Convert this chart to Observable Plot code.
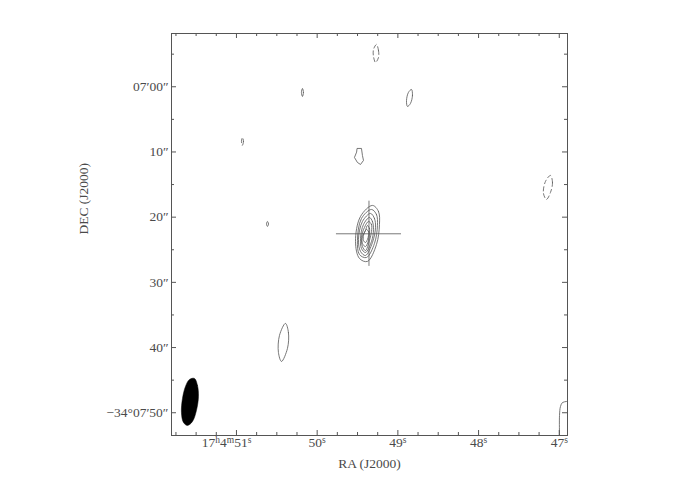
<!DOCTYPE html>
<html><head><meta charset="utf-8">
<script src="https://cdn.jsdelivr.net/npm/d3@7"></script>
<script src="https://cdn.jsdelivr.net/npm/@observablehq/plot@0.6"></script>
<style>body{margin:0;background:#fff}</style>
</head><body><div id="chart"></div>
<script>
// Axis ticks and labels (RA seconds of 17h04m, Dec arcsec beyond -34°07'00")
const raMajor = [51, 50, 49, 48, 47];
const raLabels = ["17ʰ4ᵐ51ˢ", "50ˢ", "49ˢ", "48ˢ", "47ˢ"];
const raMinor = [51.75,51.5,51.25,50.75,50.5,50.25,49.75,49.5,49.25,48.75,48.5,48.25,47.75,47.5,47.25];
const decMajor = [0, 10, 20, 30, 40, 50];
const decLabels = ["07′00″", "10″", "20″", "30″", "40″", "−34°07′50″"];
const decMinor = [-5, 5, 15, 25, 35, 45];
const raDomain = [51.805, 46.898];
const decDomain = [-8.17, 53.49];

// Main source contours [RA s, Dec "]
const srcC1 = [[49.315,18.20],[49.240,19.12],[49.228,21.12],[49.265,24.20],[49.377,26.79],[49.476,26.33],[49.525,23.74],[49.463,19.89]];
const srcC2 = [[49.327,18.82],[49.265,19.59],[49.253,21.28],[49.290,24.04],[49.389,26.19],[49.476,25.73],[49.501,23.58],[49.451,20.20]];
const srcC3 = [[49.339,19.43],[49.290,20.20],[49.277,21.58],[49.315,23.89],[49.401,25.88],[49.463,25.26],[49.488,23.43],[49.439,20.66]];
const srcC4 = [[49.352,20.05],[49.315,20.66],[49.302,21.89],[49.327,23.74],[49.401,25.42],[49.451,24.81],[49.463,23.27],[49.426,21.12]];
const srcC5 = [[49.364,20.66],[49.327,21.12],[49.327,22.20],[49.352,23.58],[49.401,25.12],[49.439,24.51],[49.451,23.12],[49.414,21.58]];
const srcC6 = [[49.377,21.28],[49.352,21.74],[49.352,22.50],[49.364,23.58],[49.401,24.51],[49.439,24.04],[49.439,22.97],[49.401,22.04]];
const srcC7 = [[49.389,21.89],[49.364,22.20],[49.364,22.81],[49.377,23.43],[49.401,23.89],[49.426,23.58],[49.426,22.81],[49.414,22.35]];

// Other positive (solid) contours
const posA = [[50.182,0.26],[50.170,0.87],[50.182,1.49],[50.195,0.87]];
const posB = [[48.831,0.41],[48.819,1.33],[48.844,2.56],[48.881,3.02],[48.893,2.10],[48.869,0.87]];
const posC = [[49.501,9.46],[49.451,9.46],[49.439,10.54],[49.426,11.30],[49.463,11.92],[49.501,11.61],[49.538,10.84],[49.513,10.08]];
const posD = [[50.616,20.66],[50.603,21.04],[50.616,21.43],[50.628,21.04]];
const posE = [[50.393,36.30],[50.356,37.68],[50.368,40.13],[50.442,42.13],[50.480,40.75],[50.467,38.14]];
// Negative (dashed) contours
const negA = [[49.265,-6.49],[49.240,-5.57],[49.240,-4.49],[49.277,-3.73],[49.302,-4.64],[49.302,-5.72]];
const negB = [[50.926,7.78],[50.913,8.39],[50.926,9.00],[50.938,8.39]];
const negC = [[47.109,13.60],[47.084,14.68],[47.109,16.21],[47.158,17.28],[47.196,16.36],[47.171,14.52]];
// Contour cut by the map edge
const edgeOpen = [[46.997,53.49],[46.997,50.42],[46.985,49.04],[46.960,48.43],[46.910,48.27],[46.898,48.20]];
// Beam
const beam = [[51.520,44.74],[51.483,45.81],[51.471,47.50],[51.496,49.65],[51.545,51.34],[51.607,51.95],[51.657,51.49],[51.682,49.96],[51.669,47.81],[51.632,45.97],[51.582,44.89]];
// Cross marking the position
const crossCenter = {ra: 49.358, dec: 22.55};
const crossHalf = {ra: 0.403, dec: 5.0};

const toRows = (groups) => groups.flatMap(([id, pts]) => pts.map(([ra, dec]) => ({id, ra, dec})));
const smoothSolid = toRows([["c1",srcC1],["c2",srcC2],["c3",srcC3],["c4",srcC4],["c5",srcC5],["c6",srcC6],["c7",srcC7],["a",posA],["b",posB],["d",posD],["e",posE]]);
const polySolid = toRows([["c",posC]]);
const dashed = toRows([["na",negA],["nb",negB],["nc",negC]]);
const openRows = toRows([["edge",edgeOpen]]);
const beamRows = toRows([["beam",beam]]);

const W = 690, H = 488, mL = 171, mR = 123, mT = 33, mB = 53;
const frameW = W - mL - mR, frameH = H - mT - mB;
const ink = "#555", txt = "#4a4a4a";

const chart = Plot.plot({
  width: W, height: H,
  marginLeft: mL, marginRight: mR, marginTop: mT, marginBottom: mB,
  style: {fontFamily: "'Liberation Serif', 'DejaVu Serif', serif", fontSize: "13.5px", color: txt, background: "#fff"},
  x: {domain: raDomain, axis: null},
  y: {domain: decDomain, reverse: true, axis: null},
  marks: [
    Plot.frame({stroke: ink, strokeWidth: 1}),
    // inward ticks
    Plot.tickX(raMajor, {x: d => d, insetBottom: frameH - 5, stroke: ink}),
    Plot.tickX(raMajor, {x: d => d, insetTop: frameH - 5, stroke: ink}),
    Plot.tickX(raMinor, {x: d => d, insetBottom: frameH - 3, stroke: ink}),
    Plot.tickX(raMinor, {x: d => d, insetTop: frameH - 3, stroke: ink}),
    Plot.tickY(decMajor, {y: d => d, insetRight: frameW - 5, stroke: ink}),
    Plot.tickY(decMajor, {y: d => d, insetLeft: frameW - 5, stroke: ink}),
    Plot.tickY(decMinor, {y: d => d, insetRight: frameW - 3, stroke: ink}),
    Plot.tickY(decMinor, {y: d => d, insetLeft: frameW - 3, stroke: ink}),
    // tick labels
    Plot.text(raMajor.slice(0, 1), {x: d => d, frameAnchor: "bottom", dy: 11, dx: 15, textAnchor: "end", text: (d, i) => raLabels[0], fill: txt}),
    Plot.text(raMajor.slice(1), {x: d => d, frameAnchor: "bottom", dy: 11, text: (d, i) => raLabels[i + 1], fill: txt}),
    Plot.text(decMajor, {y: d => d, frameAnchor: "left", dx: -3, textAnchor: "end", text: (d, i) => decLabels[i], fill: txt}),
    // axis titles
    Plot.text(["RA (J2000)"], {frameAnchor: "bottom", dy: 32, fill: txt}),
    Plot.text(["DEC (J2000)"], {frameAnchor: "left", dx: -88, rotate: -90, fill: txt}),
    // contours
    Plot.line(smoothSolid, {x: "ra", y: "dec", z: "id", curve: "catmull-rom-closed", stroke: ink, strokeWidth: 0.8}),
    Plot.line(polySolid, {x: "ra", y: "dec", z: "id", curve: "linear-closed", stroke: ink, strokeWidth: 0.8}),
    Plot.line(dashed, {x: "ra", y: "dec", z: "id", curve: "catmull-rom-closed", stroke: ink, strokeWidth: 0.8, strokeDasharray: "4,3"}),
    Plot.line(openRows, {x: "ra", y: "dec", z: "id", curve: "catmull-rom", stroke: ink, strokeWidth: 0.8}),
    // beam
    Plot.line(beamRows, {x: "ra", y: "dec", z: "id", curve: "catmull-rom-closed", fill: "#000", stroke: "#000", strokeWidth: 0.5}),
    // cross
    Plot.ruleY([crossCenter], {y: "dec", x1: d => d.ra + crossHalf.ra, x2: d => d.ra - crossHalf.ra, stroke: ink, strokeWidth: 0.8}),
    Plot.ruleX([crossCenter], {x: "ra", y1: d => d.dec - crossHalf.dec, y2: d => d.dec + crossHalf.dec, stroke: ink, strokeWidth: 0.8})
  ]
});

// Render the h/m/s unit letters as true superscripts
const supMap = {"ʰ": "h", "ᵐ": "m", "ˢ": "s"};
d3.select(chart).selectAll("text").each(function() {
  const s = this.textContent;
  if (!/[ʰᵐˢ]/.test(s)) return;
  const sel = d3.select(this);
  sel.text(null);
  for (const part of s.match(/[ʰᵐˢ]|[^ʰᵐˢ]+/g)) {
    if (supMap[part]) {
      sel.append("tspan").attr("font-size", "9.5px").attr("baseline-shift", "40%").text(supMap[part]);
    } else {
      sel.append("tspan").text(part);
    }
  }
});
document.getElementById("chart").appendChild(chart);
</script>
</body></html>
